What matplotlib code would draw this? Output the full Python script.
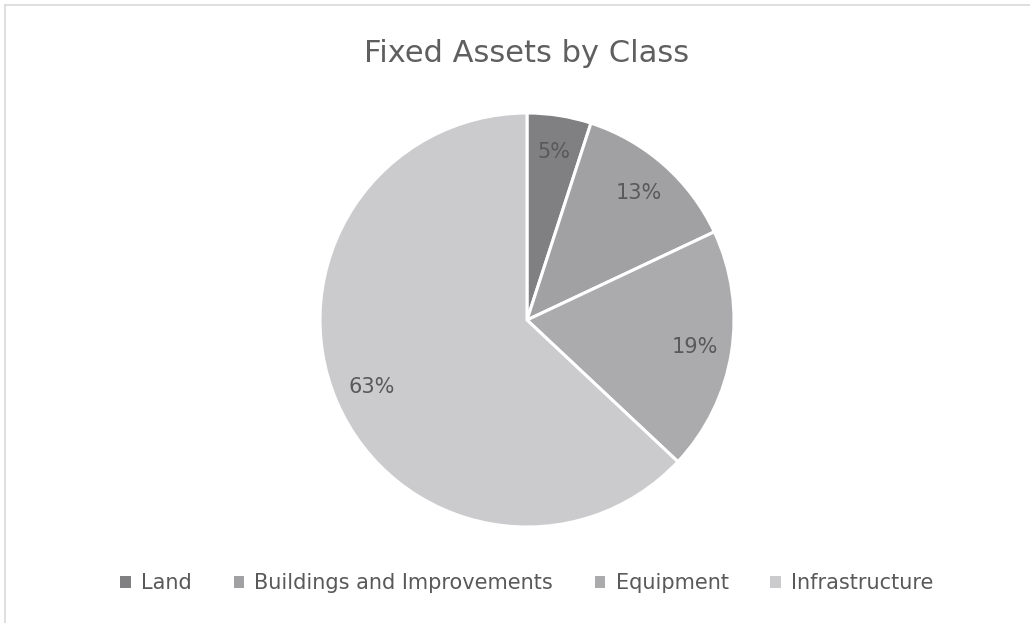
import matplotlib
matplotlib.use("Agg")
import matplotlib.pyplot as plt
from matplotlib.patches import Rectangle
from matplotlib.lines import Line2D

categories = ["Land", "Buildings and Improvements", "Equipment", "Infrastructure"]
values = [5, 13, 19, 63]
colors = ["#808082", "#a1a1a3", "#ababad", "#cbcbcd"]

plt.rcParams['font.family'] = ['DejaVu Sans']

W, H = 1030, 623
fig = plt.figure(figsize=(W/100, H/100), dpi=100)
fig.patch.set_facecolor("white")

# chart frame (left and top edges visible)
fig.add_artist(Line2D([5/W, 5/W], [0, 1 - 5/H], color="#d9d9d9", lw=1.2, transform=fig.transFigure))
fig.add_artist(Line2D([5/W, 1], [1 - 5/H, 1 - 5/H], color="#d9d9d9", lw=1.2, transform=fig.transFigure))

cx, cy, r = 527, 320, 207
ax = fig.add_axes([(cx - r)/W, (H - cy - r)/H, 2*r/W, 2*r/H])
wedges, texts, autotexts = ax.pie(values, colors=colors, startangle=90, counterclock=False,
       autopct=lambda p: f"{p:.0f}%", pctdistance=0.82,
       wedgeprops=dict(edgecolor="white", linewidth=2.2),
       textprops=dict(color="#595959", fontsize=15))
ax.set_xlim(-1, 1); ax.set_ylim(-1, 1)
ax.set_aspect("equal")
ax.axis("off")

fig.text(cx/W, 1 - 53/H, "Fixed Assets by Class", ha="center", va="center",
         fontsize=22, color="#5f5f5f")

handles = [Rectangle((0, 0), 1, 1, facecolor=c, edgecolor="none") for c in colors]
leg = fig.legend(handles, categories, loc="center", bbox_to_anchor=(cx/W, 1 - 583/H),
                 ncol=4, frameon=False, fontsize=15, handlelength=0.5, handleheight=0.5,
                 handletextpad=0.5, columnspacing=2.0, labelcolor="#595959")

fig.savefig("out.png", dpi=100, facecolor="white")
